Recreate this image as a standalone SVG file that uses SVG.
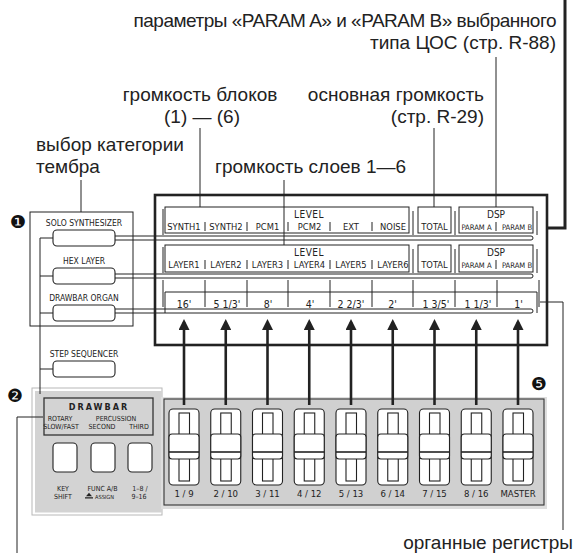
<svg xmlns="http://www.w3.org/2000/svg" width="577" height="553" viewBox="0 0 577 553">
<defs>
<style>
.ann{font-family:"Liberation Sans",Arial,sans-serif;font-size:19px;fill:#222}
.n{font-family:"Liberation Sans Narrow","DejaVu Sans Condensed","Liberation Sans",sans-serif;fill:#222}
.c{text-anchor:middle}
.e{text-anchor:end}
.ln{fill:none;stroke:#222;stroke-width:1}
.th{fill:#fff;stroke:#222;stroke-width:2.6}
.btn{fill:#fff;stroke:#222;stroke-width:1.1}
.stem{fill:none;stroke:#222;stroke-width:2.6}
.num{font-family:"DejaVu Sans",sans-serif;font-size:18px;fill:#111;text-anchor:middle}
</style>
<marker id="ah" markerUnits="userSpaceOnUse" viewBox="0 0 11 11" markerWidth="11" markerHeight="11" refX="8" refY="5.5" orient="auto">
<path d="M0,0 L11,5.5 L0,11 Z" fill="#222"/>
</marker>
</defs>
<rect width="577" height="553" fill="#fff"/>

<!-- annotations -->
<g id="annotations">
<text class="ann e" x="556" y="27" font-size="17" letter-spacing="-0.5">параметры «PARAM A» и «PARAM B» выбранного</text>
<text class="ann e" x="556" y="49">типа ЦОС (стр. R-88)</text>
<text class="ann c" x="200" y="101">громкость блоков</text>
<text class="ann c" x="202" y="123">(1) — (6)</text>
<text class="ann e" x="484" y="101">основная громкость</text>
<text class="ann e" x="484" y="123">(стр. R-29)</text>
<text class="ann" x="36" y="151">выбор категории</text>
<text class="ann" x="36" y="173">тембра</text>
<text class="ann" x="215" y="173">громкость слоев 1—6</text>
<text class="ann e" x="573" y="549">органные регистры</text>
<text class="num" x="18" y="228">❶</text>
<text class="num" x="15" y="402">❷</text>
<text class="num" x="539" y="390">❺</text>
</g>

<!-- category selector -->
<g id="category">
<rect x="30" y="212" width="103" height="114" class="ln"/>
<text class="n c" x="84" y="226" font-size="8.5">SOLO SYNTHESIZER</text>
<rect id="btn-solo" x="53" y="230" width="62" height="16" rx="4" class="btn"/>
<text class="n c" x="84" y="264" font-size="8.5">HEX LAYER</text>
<rect id="btn-hex" x="53" y="268" width="62" height="16" rx="4" class="btn"/>
<text class="n c" x="84" y="301" font-size="8.5">DRAWBAR ORGAN</text>
<rect id="btn-drawbar" x="53" y="305" width="62" height="16" rx="4" class="btn"/>
</g>
<g id="step-seq">
<text class="n c" x="84" y="357" font-size="8.5">STEP SEQUENCER</text>
<rect x="53" y="361" width="62" height="16" rx="4" class="btn"/>
</g>

<!-- LCD -->
<g id="lcd">
<rect x="155" y="195" width="392" height="150" class="th"/>
<g id="row1">
<path class="ln" d="M163,209V235 M413,211V235 M455,211V235 M537,211V235"/>
<rect x="165" y="207" width="244" height="26" class="ln"/>
<rect x="418" y="207" width="33" height="26" class="ln"/>
<rect x="459" y="207" width="74" height="26" class="ln"/>
<path class="ln" d="M205,222V231 M247,222V231 M288,222V231 M330,222V231 M372,222V231 M496,222V231"/>
<text class="n c" x="309" y="218" font-size="10" letter-spacing="0.5">LEVEL</text>
<text class="n c" x="496" y="218" font-size="10">DSP</text>
<g class="n c" font-size="9.3">
<text x="184" y="230">SYNTH1</text><text x="226" y="230">SYNTH2</text><text x="267.5" y="230">PCM1</text>
<text x="309.5" y="230">PCM2</text><text x="351" y="230">EXT</text><text x="393" y="230">NOISE</text>
<text x="434.5" y="230">TOTAL</text>
</g>
<g class="n c" font-size="7.6">
<text x="476.5" y="230">PARAM A</text><text x="517" y="230">PARAM B</text>
</g>
</g>
<g id="row2">
<path class="ln" d="M163,247V273 M413,249V273 M455,249V273 M537,249V273"/>
<rect x="165" y="245" width="244" height="27" class="ln"/>
<rect x="418" y="245" width="33" height="27" class="ln"/>
<rect x="459" y="245" width="74" height="27" class="ln"/>
<path class="ln" d="M205,260V269 M247,260V269 M288,260V269 M330,260V269 M372,260V269 M496,260V269"/>
<text class="n c" x="309" y="256" font-size="10" letter-spacing="0.5">LEVEL</text>
<text class="n c" x="496" y="256" font-size="10">DSP</text>
<g class="n c" font-size="9.3">
<text x="184" y="268">LAYER1</text><text x="226" y="268">LAYER2</text><text x="267.5" y="268">LAYER3</text>
<text x="309.5" y="268">LAYER4</text><text x="351" y="268">LAYER5</text><text x="393" y="268">LAYER6</text>
<text x="434.5" y="268">TOTAL</text>
</g>
<g class="n c" font-size="7.6">
<text x="476.5" y="268">PARAM A</text><text x="517" y="268">PARAM B</text>
</g>
</g>
<g id="row3">
<path class="ln" d="M165,313V292H537V313"/>
<path class="ln" d="M163,280V307 M205,280V307 M247,280V307 M288,280V307 M330,280V307 M372,280V307 M413,280V307 M455,280V307 M497,280V307 M539,280V307"/>
<g class="n c" font-size="10.5" xml:space="preserve">
<text x="184" y="308">16'</text><text x="227" y="308">5  1/3'</text><text x="268" y="308">8'</text>
<text x="310" y="308">4'</text><text x="351" y="308">2  2/3'</text><text x="392.5" y="308">2'</text>
<text x="436" y="308">1  3/5'</text><text x="478" y="308">1  1/3'</text><text x="518.5" y="308">1'</text>
</g>
</g>
</g>

<!-- drawbar panel -->
<g id="drawbar-panel">
<rect x="32" y="388" width="130" height="127" fill="#fff" stroke="#b8b8b8" stroke-width="1"/>
<rect x="35" y="391" width="127" height="121.5" fill="#d3d3d3"/>
<rect x="44" y="398" width="109" height="37" fill="none" stroke="#333" stroke-width="1.3"/>
<text class="n c" x="99" y="409.5" font-size="9" font-weight="bold" letter-spacing="2">DRAWBAR</text>
<g class="n c" font-size="7">
<text x="60" y="421">ROTARY</text><text x="61" y="429">SLOW/FAST</text>
<text x="116" y="421">PERCUSSION</text><text x="102" y="429">SECOND</text><text x="139" y="429">THIRD</text>
</g>
<rect x="53" y="443" width="24" height="29" rx="4" class="btn"/>
<rect x="91" y="443" width="24" height="29" rx="4" class="btn"/>
<rect x="128" y="443" width="24" height="29" rx="4" class="btn"/>
<g class="n c" font-size="7">
<text x="63" y="491">KEY</text><text x="63" y="499">SHIFT</text>
<text x="102.5" y="491">FUNC A/B</text>
<text x="140" y="491">1–8 /</text><text x="139" y="499">9–16</text>
</g>
<path d="M86,496.2 L89,492.8 L92,496.2 Z M85,497.2 H93 V498.6 H85 Z" fill="#222"/>
<text class="n" x="95" y="499" font-size="5.6">ASSIGN</text>
</g>

<!-- sliders -->
<g id="slider-panel">
<rect x="161" y="397" width="386" height="112" fill="#dedede"/>
<rect x="164" y="399" width="380" height="106" fill="#d0d0d0" stroke="#333" stroke-width="1.1"/>
</g>
<g id="sliders">
<g id="s1" transform="translate(184,0)"><rect x="-15" y="409" width="30" height="76" rx="4" class="btn"/><rect x="-5" y="413" width="10.5" height="68" class="btn"/><rect x="-15" y="434" width="30" height="25" rx="3" class="btn"/><path d="M-15,452H15" stroke="#222" stroke-width="1.6"/><text class="n c" y="497" font-size="9.5">1 / 9</text></g>
<g id="s2" transform="translate(225.75,0)"><rect x="-15" y="409" width="30" height="76" rx="4" class="btn"/><rect x="-5" y="413" width="10.5" height="68" class="btn"/><rect x="-15" y="434" width="30" height="25" rx="3" class="btn"/><path d="M-15,452H15" stroke="#222" stroke-width="1.6"/><text class="n c" y="497" font-size="9.5">2 / 10</text></g>
<g id="s3" transform="translate(267.5,0)"><rect x="-15" y="409" width="30" height="76" rx="4" class="btn"/><rect x="-5" y="413" width="10.5" height="68" class="btn"/><rect x="-15" y="434" width="30" height="25" rx="3" class="btn"/><path d="M-15,452H15" stroke="#222" stroke-width="1.6"/><text class="n c" y="497" font-size="9.5">3 / 11</text></g>
<g id="s4" transform="translate(309.25,0)"><rect x="-15" y="409" width="30" height="76" rx="4" class="btn"/><rect x="-5" y="413" width="10.5" height="68" class="btn"/><rect x="-15" y="434" width="30" height="25" rx="3" class="btn"/><path d="M-15,452H15" stroke="#222" stroke-width="1.6"/><text class="n c" y="497" font-size="9.5">4 / 12</text></g>
<g id="s5" transform="translate(351,0)"><rect x="-15" y="409" width="30" height="76" rx="4" class="btn"/><rect x="-5" y="413" width="10.5" height="68" class="btn"/><rect x="-15" y="434" width="30" height="25" rx="3" class="btn"/><path d="M-15,452H15" stroke="#222" stroke-width="1.6"/><text class="n c" y="497" font-size="9.5">5 / 13</text></g>
<g id="s6" transform="translate(392.75,0)"><rect x="-15" y="409" width="30" height="76" rx="4" class="btn"/><rect x="-5" y="413" width="10.5" height="68" class="btn"/><rect x="-15" y="434" width="30" height="25" rx="3" class="btn"/><path d="M-15,452H15" stroke="#222" stroke-width="1.6"/><text class="n c" y="497" font-size="9.5">6 / 14</text></g>
<g id="s7" transform="translate(434.5,0)"><rect x="-15" y="409" width="30" height="76" rx="4" class="btn"/><rect x="-5" y="413" width="10.5" height="68" class="btn"/><rect x="-15" y="434" width="30" height="25" rx="3" class="btn"/><path d="M-15,452H15" stroke="#222" stroke-width="1.6"/><text class="n c" y="497" font-size="9.5">7 / 15</text></g>
<g id="s8" transform="translate(476.25,0)"><rect x="-15" y="409" width="30" height="76" rx="4" class="btn"/><rect x="-5" y="413" width="10.5" height="68" class="btn"/><rect x="-15" y="434" width="30" height="25" rx="3" class="btn"/><path d="M-15,452H15" stroke="#222" stroke-width="1.6"/><text class="n c" y="497" font-size="9.5">8 / 16</text></g>
<g id="s9" transform="translate(518,0)"><rect x="-15" y="409" width="30" height="76" rx="4" class="btn"/><rect x="-5" y="413" width="10.5" height="68" class="btn"/><rect x="-15" y="434" width="30" height="25" rx="3" class="btn"/><path d="M-15,452H15" stroke="#222" stroke-width="1.6"/><text class="n c" y="497" font-size="9.5">MASTER</text></g>
</g>

<!-- connectors -->
<g id="connectors">
<path class="ln" d="M200,128V207 M434,128V207 M496,57V207 M81,180V212 M284,180V245"/>
<path d="M565,0V228H547" fill="none" stroke="#222" stroke-width="3"/>
<path class="ln" d="M540,302H563V530"/>
<path class="ln" d="M40,238V394 M40,238H53 M40,276H53 M40,313H53 M40,369H53"/>
<path class="ln" d="M43,417H17V553"/>
<path class="ln" d="M115,236H531A2,2 0 0 1 531,240H115"/>
<path class="ln" d="M115,274H531A2,2 0 0 1 531,278H115"/>
<path class="ln" d="M115,309H531A2,2 0 0 1 531,313H115"/>
<g class="stem" marker-end="url(#ah)">
<path d="M184,405V322"/><path d="M225.75,405V322"/><path d="M267.5,405V322"/>
<path d="M309.25,405V322"/><path d="M351,405V322"/><path d="M392.75,405V322"/>
<path d="M434.5,405V322"/><path d="M476.25,405V322"/><path d="M518,405V322"/>
</g>
</g>
</svg>
